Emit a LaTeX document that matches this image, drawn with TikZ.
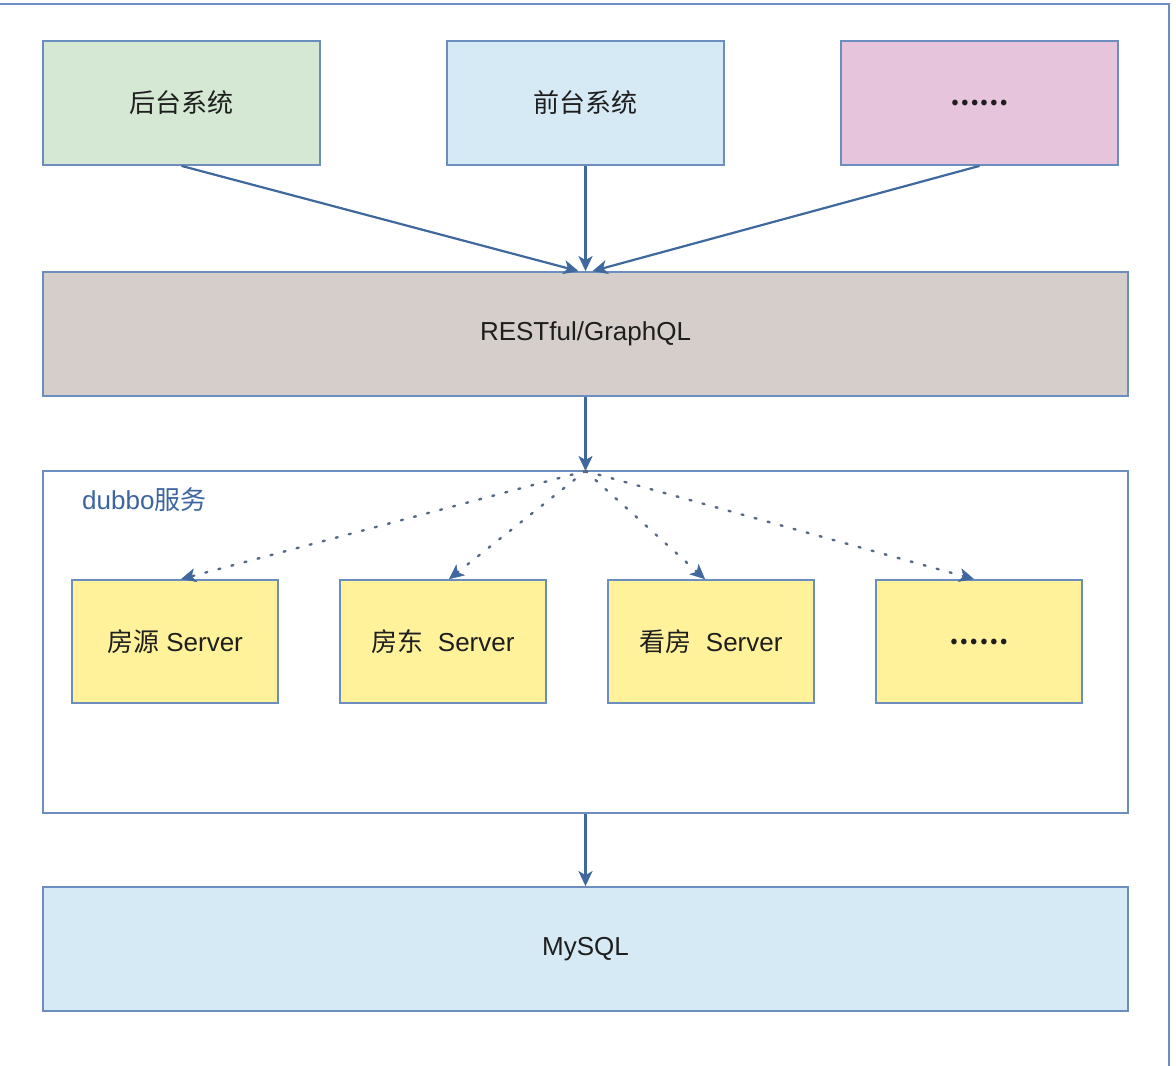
\documentclass[tikz,border=0pt]{standalone}
\usepackage{fontspec}
\setmainfont{Liberation Sans}
\newfontfamily\cjk{Noto Sans CJK SC}
\usetikzlibrary{arrows.meta}
\definecolor{bordc}{RGB}{108,142,191}
\definecolor{arrc}{RGB}{62,104,158}
\definecolor{dotc}{RGB}{85,105,135}
\definecolor{greenf}{RGB}{213,232,212}
\definecolor{bluef}{RGB}{214,234,246}
\definecolor{pinkf}{RGB}{230,196,219}
\definecolor{greyf}{RGB}{214,206,202}
\definecolor{yellowf}{RGB}{255,242,155}
\definecolor{txt}{RGB}{30,30,30}
\definecolor{labc}{RGB}{60,100,160}
\begin{document}
\begin{tikzpicture}[x=1pt,y=-1pt,
  box/.style={draw=bordc, line width=1.8pt, text=txt, inner sep=0pt,
    font=\fontsize{26}{30}\selectfont},
  wide/.style={box, minimum width=1085pt, minimum height=124pt},
  top/.style={box, minimum width=277pt, minimum height=124pt},
  srv/.style={box, fill=yellowf, minimum width=206pt, minimum height=123pt},
  arr/.style={draw=arrc, line width=2.2pt, -{Stealth[length=15pt,width=14pt,inset=4pt]}},
  darr/.style={draw=dotc, line width=2.4pt, line cap=round, dash pattern=on 2pt off 11.5pt,
    -{Stealth[length=15pt,width=14pt,inset=4pt,color=arrc,line width=0.5pt]}}
]
\useasboundingbox (0,0) rectangle (1176,1066);
\fill[white] (0,0) rectangle (1176,1066);
\draw[draw=bordc, line width=1.8pt] (0,4) -- (1169,4) -- (1169,1066);

\node[top, fill=greenf] (bt) at (181.5,103) {\cjk 后台系统};
\node[top, fill=bluef] (ft) at (585.5,103) {\cjk 前台系统};
\node[top, fill=pinkf] (ot) at (979.5,103) {\cjk\bfseries ……};

\node[wide, fill=greyf] (api) at (585.5,334) {RESTful/GraphQL};

\node[box, fill=white, minimum width=1085pt, minimum height=342pt] (dub) at (585.5,642) {};
\node[text=labc, font=\fontsize{26}{30}\selectfont, anchor=west, inner sep=0pt] (dlab) at (82,500) {dubbo\cjk 服务};

\node[srv] (s1) at (175,641.5) {\cjk 房源\rmfamily\ Server};
\node[srv] (s2) at (443,641.5) {\cjk 房东\rmfamily\ \ Server};
\node[srv] (s3) at (711,641.5) {\cjk 看房\rmfamily\ \ Server};
\node[srv] (s4) at (979,641.5) {\cjk\bfseries ……};

\node[wide, fill=bluef] (db) at (585.5,949) {MySQL};

\coordinate (hub) at (585.5,471);

\draw[arr] (bt.south) -- ([xshift=-7pt]api.north);
\draw[arr] (ft.south) -- (api.north);
\draw[arr] (ot.south) -- ([xshift=7pt]api.north);
\draw[arr] (api.south) -- (hub);

\draw[darr] (hub) -- ([xshift=6pt]s1.north);
\draw[darr] (hub) -- ([xshift=6pt]s2.north);
\draw[darr] (hub) -- ([xshift=-6pt]s3.north);
\draw[darr] (hub) -- ([xshift=-5pt]s4.north);

\draw[arr] (dub.south) -- (db.north);
\end{tikzpicture}
\end{document}
